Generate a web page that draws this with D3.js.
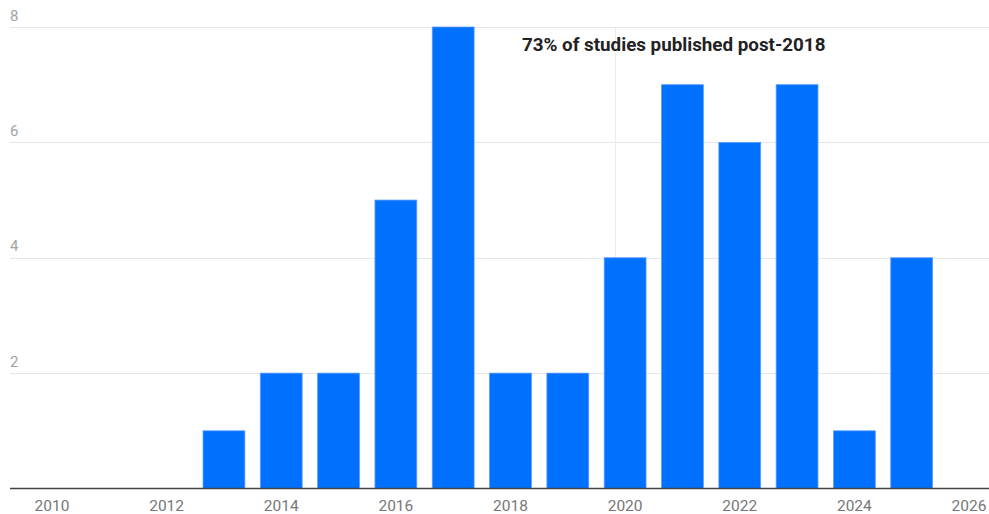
<!DOCTYPE html>
<html>
<head>
<meta charset="utf-8">
<script src="https://cdn.jsdelivr.net/npm/d3@7"></script>
<style>
  body { margin: 0; background: #fff; }
  svg { display: block; font-family: Roboto, sans-serif; }
</style>
</head>
<body>
<div id="chart"></div>
<script>
// Data
var years = [2013, 2014, 2015, 2016, 2017, 2018, 2019, 2020, 2021, 2022, 2023, 2024, 2025]
var counts = [1, 2, 2, 5, 8, 2, 2, 4, 7, 6, 7, 1, 4]
var xTicks = [2010, 2012, 2014, 2016, 2018, 2020, 2022, 2024, 2026]
var yTicks = [2, 4, 6, 8]
var refYear = 2019.83
var note = '73% of studies published post-2018'

var width = 989
var height = 514

var svg = d3.select('#chart').append('svg')
  .attr('width', width)
  .attr('height', height)

// Scales
var x = d3.scaleLinear().domain([2010, 2026]).range([52, 969])
var y = d3.scaleLinear().domain([0, 8]).range([488.5, 27])
var barW = (x(2011) - x(2010)) * 0.73

// Gridlines + y labels
var gGrid = svg.append('g')
gGrid.selectAll('line')
  .data(yTicks)
  .enter().append('line')
  .attr('x1', 10)
  .attr('x2', width)
  .attr('y1', function (d) { return Math.round(y(d)) + 0.5 })
  .attr('y2', function (d) { return Math.round(y(d)) + 0.5 })
  .attr('stroke', '#e6e6e6')
  .attr('stroke-width', 1)

gGrid.selectAll('text')
  .data(yTicks)
  .enter().append('text')
  .attr('x', 10)
  .attr('y', function (d) { return y(d) - 6.5 })
  .attr('font-size', 15)
  .attr('fill', '#a3a3a3')
  .text(function (d) { return d })

// Reference line
svg.append('line')
  .attr('x1', Math.round(x(refYear)) + 0.5)
  .attr('x2', Math.round(x(refYear)) + 0.5)
  .attr('y1', y(8))
  .attr('y2', y(0))
  .attr('stroke', '#ececec')
  .attr('stroke-width', 1)

// Bars
svg.append('g').selectAll('rect')
  .data(years)
  .enter().append('rect')
  .attr('x', function (d) { return x(d) - barW / 2 })
  .attr('y', function (d, i) { return y(counts[i]) })
  .attr('width', barW)
  .attr('height', function (d, i) { return y(0) - y(counts[i]) })
  .attr('fill', '#0070ff')
  .attr('stroke', '#5b9dff')
  .attr('stroke-width', 0.8)

// Baseline
svg.append('line')
  .attr('x1', 10)
  .attr('x2', width)
  .attr('y1', y(0))
  .attr('y2', y(0))
  .attr('stroke', '#444')
  .attr('stroke-width', 1.5)

// X axis labels
svg.append('g').selectAll('text')
  .data(xTicks)
  .enter().append('text')
  .attr('x', function (d) { return x(d) })
  .attr('y', 510.5)
  .attr('text-anchor', 'middle')
  .attr('font-size', 15.5)
  .attr('fill', '#777')
  .text(function (d) { return d })

// Annotation
svg.append('text')
  .attr('x', 522)
  .attr('y', 51)
  .attr('font-size', 18.8)
  .attr('font-weight', 'bold')
  .attr('fill', '#222')
  .text(note)
</script>
</body>
</html>
